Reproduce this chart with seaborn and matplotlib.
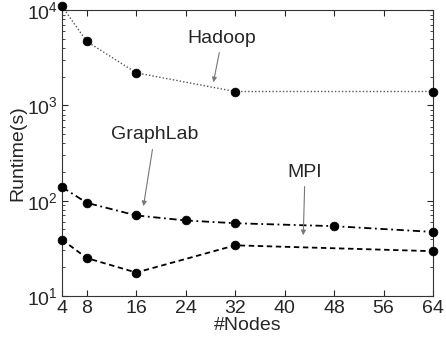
import matplotlib
matplotlib.use("Agg")
import matplotlib.pyplot as plt
import seaborn as sns
import pandas as pd

nodes_hadoop = [4, 8, 16, 32, 64]
hadoop = [11000, 4700, 2200, 1400, 1400]
nodes_graphlab = [4, 8, 16, 24, 32, 48, 64]
graphlab = [139, 95, 70, 62, 58, 54, 47]
nodes_mpi = [4, 8, 16, 32, 64]
mpi = [39, 25, 17.6, 34, 29.5]
xticks = [4, 8, 16, 24, 32, 40, 48, 56, 64]

sns.set_style("ticks")
plt.rcParams['font.family'] = ['Liberation Sans', 'DejaVu Sans']
plt.rcParams['mathtext.fontset'] = 'custom'
plt.rcParams['mathtext.rm'] = 'Liberation Sans'

fig = plt.figure(figsize=(4.46, 3.39), dpi=100)
ax = fig.add_axes([0.139, 0.127, 0.832, 0.843])

series = [
    (nodes_hadoop, hadoop, (0, (1, 1.5)), "#555555", 1.0),
    (nodes_graphlab, graphlab, (0, (4, 2, 1, 2)), "black", 1.3),
    (nodes_mpi, mpi, (0, (3, 2)), "black", 1.3),
]
for xs, ys, ls, col, lw in series:
    df = pd.DataFrame({"x": xs, "y": ys})
    sns.lineplot(data=df, x="x", y="y", ax=ax, color=col, linestyle=ls, linewidth=lw)
    sns.scatterplot(data=df, x="x", y="y", ax=ax, color="black", s=40, marker="o",
                    edgecolor="black", zorder=5, clip_on=False)

ax.set_yscale("log")
ax.set_ylim(10, 10000)
ax.set_xlim(4, 64)
ax.set_xticks(xticks)
ax.set_xticklabels([str(t) for t in xticks])
ax.tick_params(axis="both", which="both", direction="in", top=True, right=True, labelsize=14)
ax.tick_params(axis="both", which="major", length=4, pad=3)
ax.tick_params(axis="y", which="minor", length=2)
ax.set_xlabel("#Nodes", fontsize=14, labelpad=0)
ax.set_ylabel("Runtime(s)", fontsize=14, labelpad=0)
for s in ax.spines.values():
    s.set_linewidth(0.8)
    s.set_color("#333333")

arrow = dict(arrowstyle="-|>", color="#777777", lw=0.8, mutation_scale=7)
ax.annotate("Hadoop", xy=(28.4, 1640), xytext=(29.9, 5100), fontsize=14,
            ha="center", va="center", arrowprops=arrow)
ax.annotate("GraphLab", xy=(17.1, 82), xytext=(19, 490), fontsize=14,
            ha="center", va="center", arrowprops=arrow)
ax.annotate("MPI", xy=(43, 40.6), xytext=(43.3, 200), fontsize=14,
            ha="center", va="center", arrowprops=arrow)

fig.savefig("out.png", dpi=100)
